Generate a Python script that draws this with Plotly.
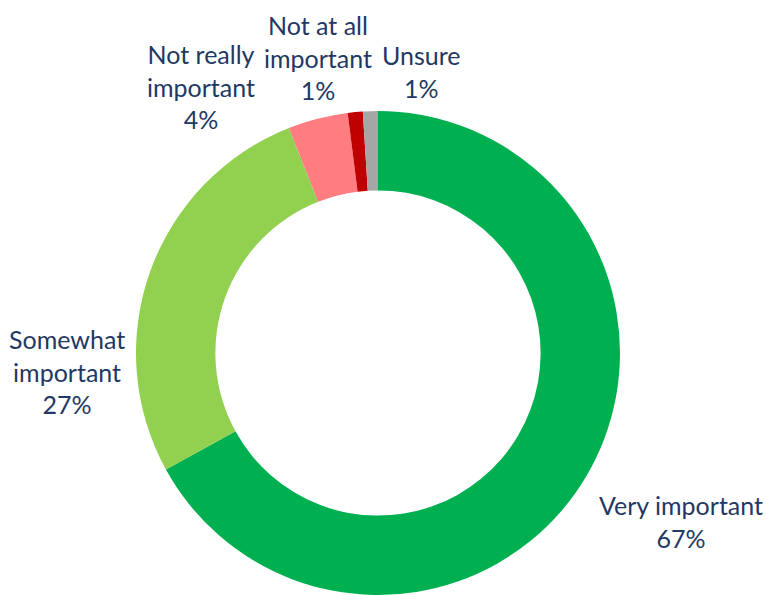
import plotly.graph_objects as go

# Survey responses: how important is it?
categories = ["Very important", "Somewhat important", "Not really important",
              "Not at all important", "Unsure"]
label_lines = [["Very important"], ["Somewhat", "important"], ["Not really", "important"],
               ["Not at all", "important"], ["Unsure"]]
shares = [67, 27, 4, 1, 1]
colors = ["#00B050", "#92D050", "#FF7C80", "#C00000", "#A6A6A6"]

W, H = 767, 595
cx, cy, r = 378, 353, 242  # donut centre and outer radius in pixels (from top-left)

fig = go.Figure(go.Pie(
    labels=categories,
    values=shares,
    sort=False,
    direction="clockwise",
    rotation=0,
    hole=0.672,
    marker=dict(colors=colors, line=dict(width=0)),
    textinfo="none",
    hoverinfo="label+percent",
    showlegend=False,
    domain=dict(x=[(cx - r) / W, (cx + r) / W],
                y=[(H - cy - r) / H, (H - cy + r) / H]),
))

# label block centres in pixels (from top-left)
label_pos = [(681, 521), (67, 371), (201, 86), (318, 58), (421, 71)]
for lines, val, (px, py) in zip(label_lines, shares, label_pos):
    fig.add_annotation(
        text="<br>".join(lines + [f"{val}%"]),
        x=px / W, y=1 - py / H, xref="paper", yref="paper",
        xanchor="center", yanchor="middle", showarrow=False, align="center",
        font=dict(family="Lato", size=25, color="#1F3864"),
    )

fig.update_layout(
    width=W, height=H,
    margin=dict(l=0, r=0, t=0, b=0),
    paper_bgcolor="white", plot_bgcolor="white",
)

fig.write_html("out.html")
